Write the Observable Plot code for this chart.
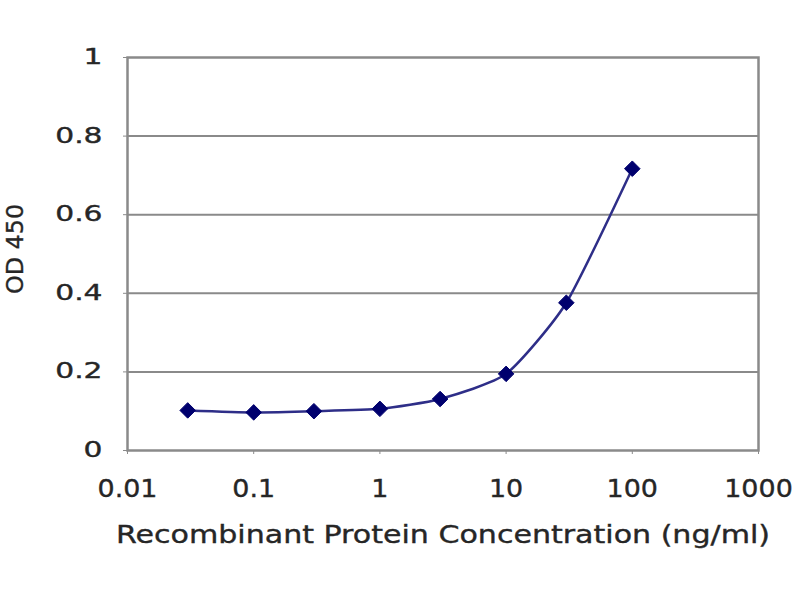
<!DOCTYPE html>
<html>
<head>
<meta charset="utf-8">
<script src="https://cdn.jsdelivr.net/npm/d3@7"></script>
<script src="https://cdn.jsdelivr.net/npm/@observablehq/plot@0.6"></script>
<style>
  html, body { margin: 0; padding: 0; background: #fff; }
  #chart svg { display: block; }
</style>
</head>
<body>
<div id="chart"></div>
<script>
const concentrations = [0.03, 0.1, 0.3, 1, 3, 10, 30, 100];
const odValues = [0.102, 0.097, 0.100, 0.106, 0.131, 0.195, 0.376, 0.717];
const xTicks = [0.01, 0.1, 1, 10, 100, 1000];
const xTickLabels = ["0.01", "0.1", "1", "10", "100", "1000"];
const yTicks = [0, 0.2, 0.4, 0.6, 0.8, 1];
const yTickLabels = ["0", "0.2", "0.4", "0.6", "0.8", "1"];
const xTitle = "Recombinant Protein Concentration (ng/ml)";
const yTitle = "OD 450";

const data = concentrations.map((c, i) => ({c, od: odValues[i]}));
const xLabelData = xTicks.map((t, i) => ({t, label: xTickLabels[i]}));
const yLabelData = yTicks.map((t, i) => ({t, label: yTickLabels[i]}));

const font = "'DejaVu Sans', sans-serif";
const gray = "#8a8a8a";
const ink = "#262626";

const plot = Plot.plot({
  width: 800,
  height: 600,
  marginLeft: 127,
  marginRight: 42,
  marginTop: 57,
  marginBottom: 150,
  style: {fontFamily: font, background: "#fff", color: ink},
  x: {type: "log", domain: [0.01, 1000]},
  y: {domain: [0, 1]},
  marks: [
    Plot.gridY(yTicks.filter(v => v > 0 && v < 1), {stroke: gray, strokeOpacity: 1, strokeWidth: 2}),
    Plot.frame({stroke: gray, strokeWidth: 2.5}),
    Plot.axisX({ticks: xTicks, tickSize: 4, stroke: gray, tickFormat: () => "", label: null}),
    Plot.axisY({ticks: yTicks, tickSize: 4, stroke: gray, tickFormat: () => "", label: null}),
    Plot.text(xLabelData, {x: "t", text: "label", frameAnchor: "bottom", lineAnchor: "middle", dy: 39, fontSize: 24.5, fill: ink, className: "xlab"}),
    Plot.text(yLabelData, {y: "t", text: "label", frameAnchor: "left", dx: -25, textAnchor: "end", fontSize: 20.5, fill: ink, className: "ylab"}),
    Plot.line(data, {x: "c", y: "od", stroke: "#2e2e88", strokeWidth: 2.5, curve: "cardinal", tension: 0.4}),
    Plot.dot(data, {x: "c", y: "od", symbol: "diamond2", r: 7, fill: "#00006e", stroke: "#00006e", strokeWidth: 1}),
    Plot.text([xTitle], {text: d => d, frameAnchor: "bottom", lineAnchor: "middle", dy: 85.3, fontSize: 24, fill: ink, textAnchor: "middle", className: "xtitle"}),
    Plot.text([yTitle], {text: d => d, frameAnchor: "left", dx: -112, dy: -5, rotate: -90, fontSize: 23, fill: ink, textAnchor: "middle", className: "ytitle"})
  ]
});

document.getElementById("chart").appendChild(plot);

// Widen glyphs to match the reference's horizontally stretched lettering
function stretch(selector, fn) {
  d3.select(plot).selectAll(selector + " text").each(function () {
    const natural = this.getComputedTextLength();
    this.setAttribute("lengthAdjust", "spacingAndGlyphs");
    this.setAttribute("textLength", fn(natural));
  });
}
stretch(".ylab", n => n * 1.45);
stretch(".xlab", n => n * 1.1);
stretch(".xtitle", () => 654);
stretch(".ytitle", () => 90);
d3.select(plot).selectAll(".xlab text, .ylab text, .xtitle text, .ytitle text")
  .attr("stroke", ink).attr("stroke-width", 0.35);
</script>
</body>
</html>
